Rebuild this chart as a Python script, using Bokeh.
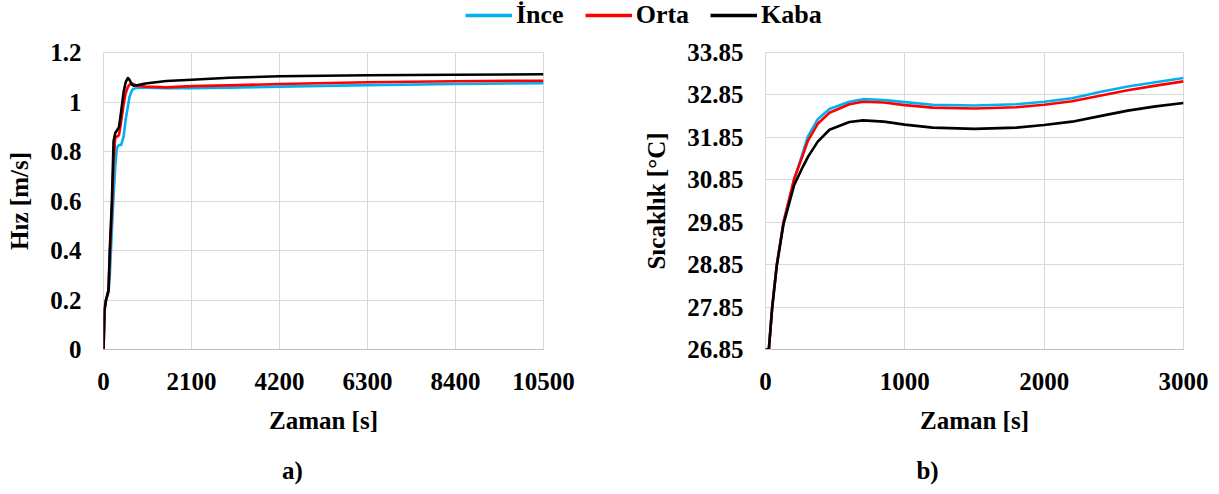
from bokeh.plotting import figure
from bokeh.layouts import column, row
from bokeh.models import Range1d, FixedTicker, Legend, LegendItem, Label
from bokeh.embed import file_html
from bokeh.resources import INLINE

# ---------------- data ----------------
series_names = ["İnce", "Orta", "Kaba"]
series_colors = ["#00b0f0", "#ff0000", "#000000"]
captions = ["a)", "b)"]

# a) velocity vs time
t_hiz = [0, 25, 60, 120, 150, 200, 240, 280, 320, 370, 420, 480, 530, 580, 620,
         680, 720, 800, 1000, 1500, 2100, 3000, 4200, 6300, 8400, 10500]
hiz_ince = [0, 0.17, 0.2, 0.23, 0.3, 0.48, 0.62, 0.74, 0.815, 0.826, 0.826, 0.86, 0.93, 0.98, 1.02,
            1.048, 1.053, 1.058, 1.058, 1.056, 1.056, 1.058, 1.062, 1.068, 1.073, 1.076]
hiz_orta = [0, 0.16, 0.2, 0.24, 0.38, 0.56, 0.76, 0.855, 0.86, 0.866, 0.92, 0.99, 1.035, 1.06, 1.07,
            1.075, 1.072, 1.066, 1.062, 1.059, 1.064, 1.067, 1.073, 1.08, 1.084, 1.086]
hiz_kaba = [0, 0.16, 0.2, 0.24, 0.4, 0.6, 0.84, 0.875, 0.885, 0.898, 0.96, 1.04, 1.08, 1.097, 1.09,
            1.07, 1.066, 1.068, 1.075, 1.085, 1.09, 1.098, 1.104, 1.108, 1.11, 1.112]

# b) temperature vs time
t_sicaklik = [0, 24, 48, 81, 129, 205, 267, 303, 375, 459, 602, 700, 850, 1000, 1200,
              1500, 1800, 2000, 2200, 2400, 2600, 2800, 3000]
sicaklik_ince = [26.85, 26.85, 27.85, 28.85, 29.85, 30.85, 31.48, 31.86, 32.28, 32.52, 32.69, 32.75,
                 32.73, 32.68, 32.62, 32.60, 32.63, 32.69, 32.77, 32.92, 33.05, 33.15, 33.25]
sicaklik_orta = [26.85, 26.85, 27.85, 28.85, 29.85, 30.87, 31.42, 31.76, 32.17, 32.43, 32.63, 32.69,
                 32.67, 32.61, 32.55, 32.53, 32.56, 32.62, 32.70, 32.83, 32.96, 33.07, 33.17]
sicaklik_kaba = [26.85, 26.85, 27.83, 28.82, 29.8, 30.72, 31.15, 31.38, 31.75, 32.03, 32.21, 32.25,
                 32.22, 32.15, 32.08, 32.05, 32.08, 32.14, 32.22, 32.35, 32.48, 32.58, 32.66]

x_ticks_a = [0, 2100, 4200, 6300, 8400, 10500]
y_ticks_a = [0, 0.2, 0.4, 0.6, 0.8, 1.0, 1.2]
y_tick_labels_a = ["0", "0.2", "0.4", "0.6", "0.8", "1", "1.2"]
x_ticks_b = [0, 1000, 2000, 3000]
y_ticks_b = [26.85, 27.85, 28.85, 29.85, 30.85, 31.85, 32.85, 33.85]
y_tick_labels_b = ["26.85", "27.85", "28.85", "29.85", "30.85", "31.85", "32.85", "33.85"]

FONT = "Liberation Serif"
FS = "25px"
GRID = "#d9d9d9"


def style(p, xlabel, ylabel, xticks, yticks, ylabels):
    p.xaxis.axis_label = xlabel
    p.yaxis.axis_label = ylabel
    p.xaxis.ticker = FixedTicker(ticks=xticks)
    p.yaxis.ticker = FixedTicker(ticks=yticks)
    p.yaxis.major_label_overrides = {v: s for v, s in zip(yticks, ylabels)}
    p.xaxis.major_label_overrides = {v: str(v) for v in xticks}
    for ax in [p.xaxis[0], p.yaxis[0]]:
        ax.major_tick_line_color = None
        ax.minor_tick_line_color = None
        ax.major_tick_out = 0
        ax.major_tick_in = 0
        ax.major_label_text_font = FONT
        ax.major_label_text_font_style = "bold"
        ax.major_label_text_font_size = FS
        ax.major_label_text_color = "black"
        ax.axis_label_text_font = FONT
        ax.axis_label_text_font_style = "bold"
        ax.axis_label_text_font_size = FS
        ax.axis_label_text_color = "black"
    p.xaxis.axis_line_color = "#bfbfbf"
    p.yaxis.axis_line_color = None
    p.xaxis.major_label_standoff = 23
    p.yaxis.major_label_standoff = 22
    p.xaxis.axis_label_standoff = 14
    p.yaxis.axis_label_standoff = 14
    p.xgrid.grid_line_color = GRID
    p.ygrid.grid_line_color = GRID
    p.outline_line_color = GRID


def strip(height):
    s = figure(width=1219, height=height, output_backend="svg", toolbar_location=None,
               x_range=Range1d(0, 1), y_range=Range1d(0, 1),
               x_axis_location=None, y_axis_location=None, min_border=0)
    s.xgrid.visible = False
    s.ygrid.visible = False
    s.outline_line_color = None
    return s


# ---------------- panel a ----------------
pa = figure(width=610, height=409, output_backend="svg", toolbar_location=None,
            x_range=Range1d(0, 10500), y_range=Range1d(0, 1.2),
            min_border_left=103, min_border_right=67, min_border_top=12, min_border_bottom=100)
for ys, c in zip([hiz_ince, hiz_orta, hiz_kaba], series_colors):
    pa.line(t_hiz, ys, line_color=c, line_width=2.6, line_join="round")
style(pa, "Zaman [s]", "Hız [m/s]", x_ticks_a, y_ticks_a, y_tick_labels_a)

# ---------------- panel b ----------------
pb = figure(width=609, height=409, output_backend="svg", toolbar_location=None,
            x_range=Range1d(0, 3000), y_range=Range1d(26.85, 33.85),
            min_border_left=155, min_border_right=36, min_border_top=12, min_border_bottom=100)
for ys, c in zip([sicaklik_ince, sicaklik_orta, sicaklik_kaba], series_colors):
    pb.line(t_sicaklik, ys, line_color=c, line_width=2.6, line_join="round")
style(pb, "Zaman [s]", "Sıcaklık [°C]", x_ticks_b, y_ticks_b, y_tick_labels_b)

# ---------------- legend strip ----------------
pl = strip(40)
items = []
for name, c in zip(series_names, series_colors):
    # placeholder renderer outside the visible range, only used for the legend swatch
    r = pl.line([-2, -1], [-2, -1], line_color=c, line_width=3.5)
    items.append(LegendItem(label=name, renderers=[r]))
leg = Legend(items=items, orientation="horizontal", location=(465, 10),
             glyph_width=47, glyph_height=24, label_standoff=4, spacing=21,
             padding=0, margin=0, border_line_color=None, background_fill_alpha=0,
             label_text_font=FONT, label_text_font_style="bold",
             label_text_font_size="26px", label_text_color="black")
pl.add_layout(leg, "center")

# ---------------- caption strip ----------------
pc = strip(45)
for txt, cx in zip(captions, [292, 927]):
    pc.add_layout(Label(x=cx, y=24, x_units="screen", y_units="screen", text=txt,
                        text_align="center", text_baseline="middle", text_font=FONT,
                        text_font_style="bold", text_font_size=FS, text_color="black"))

layout = column(pl, row(pa, pb, spacing=0), pc, spacing=0)

open("out.html", "w").write(file_html(layout, INLINE))
